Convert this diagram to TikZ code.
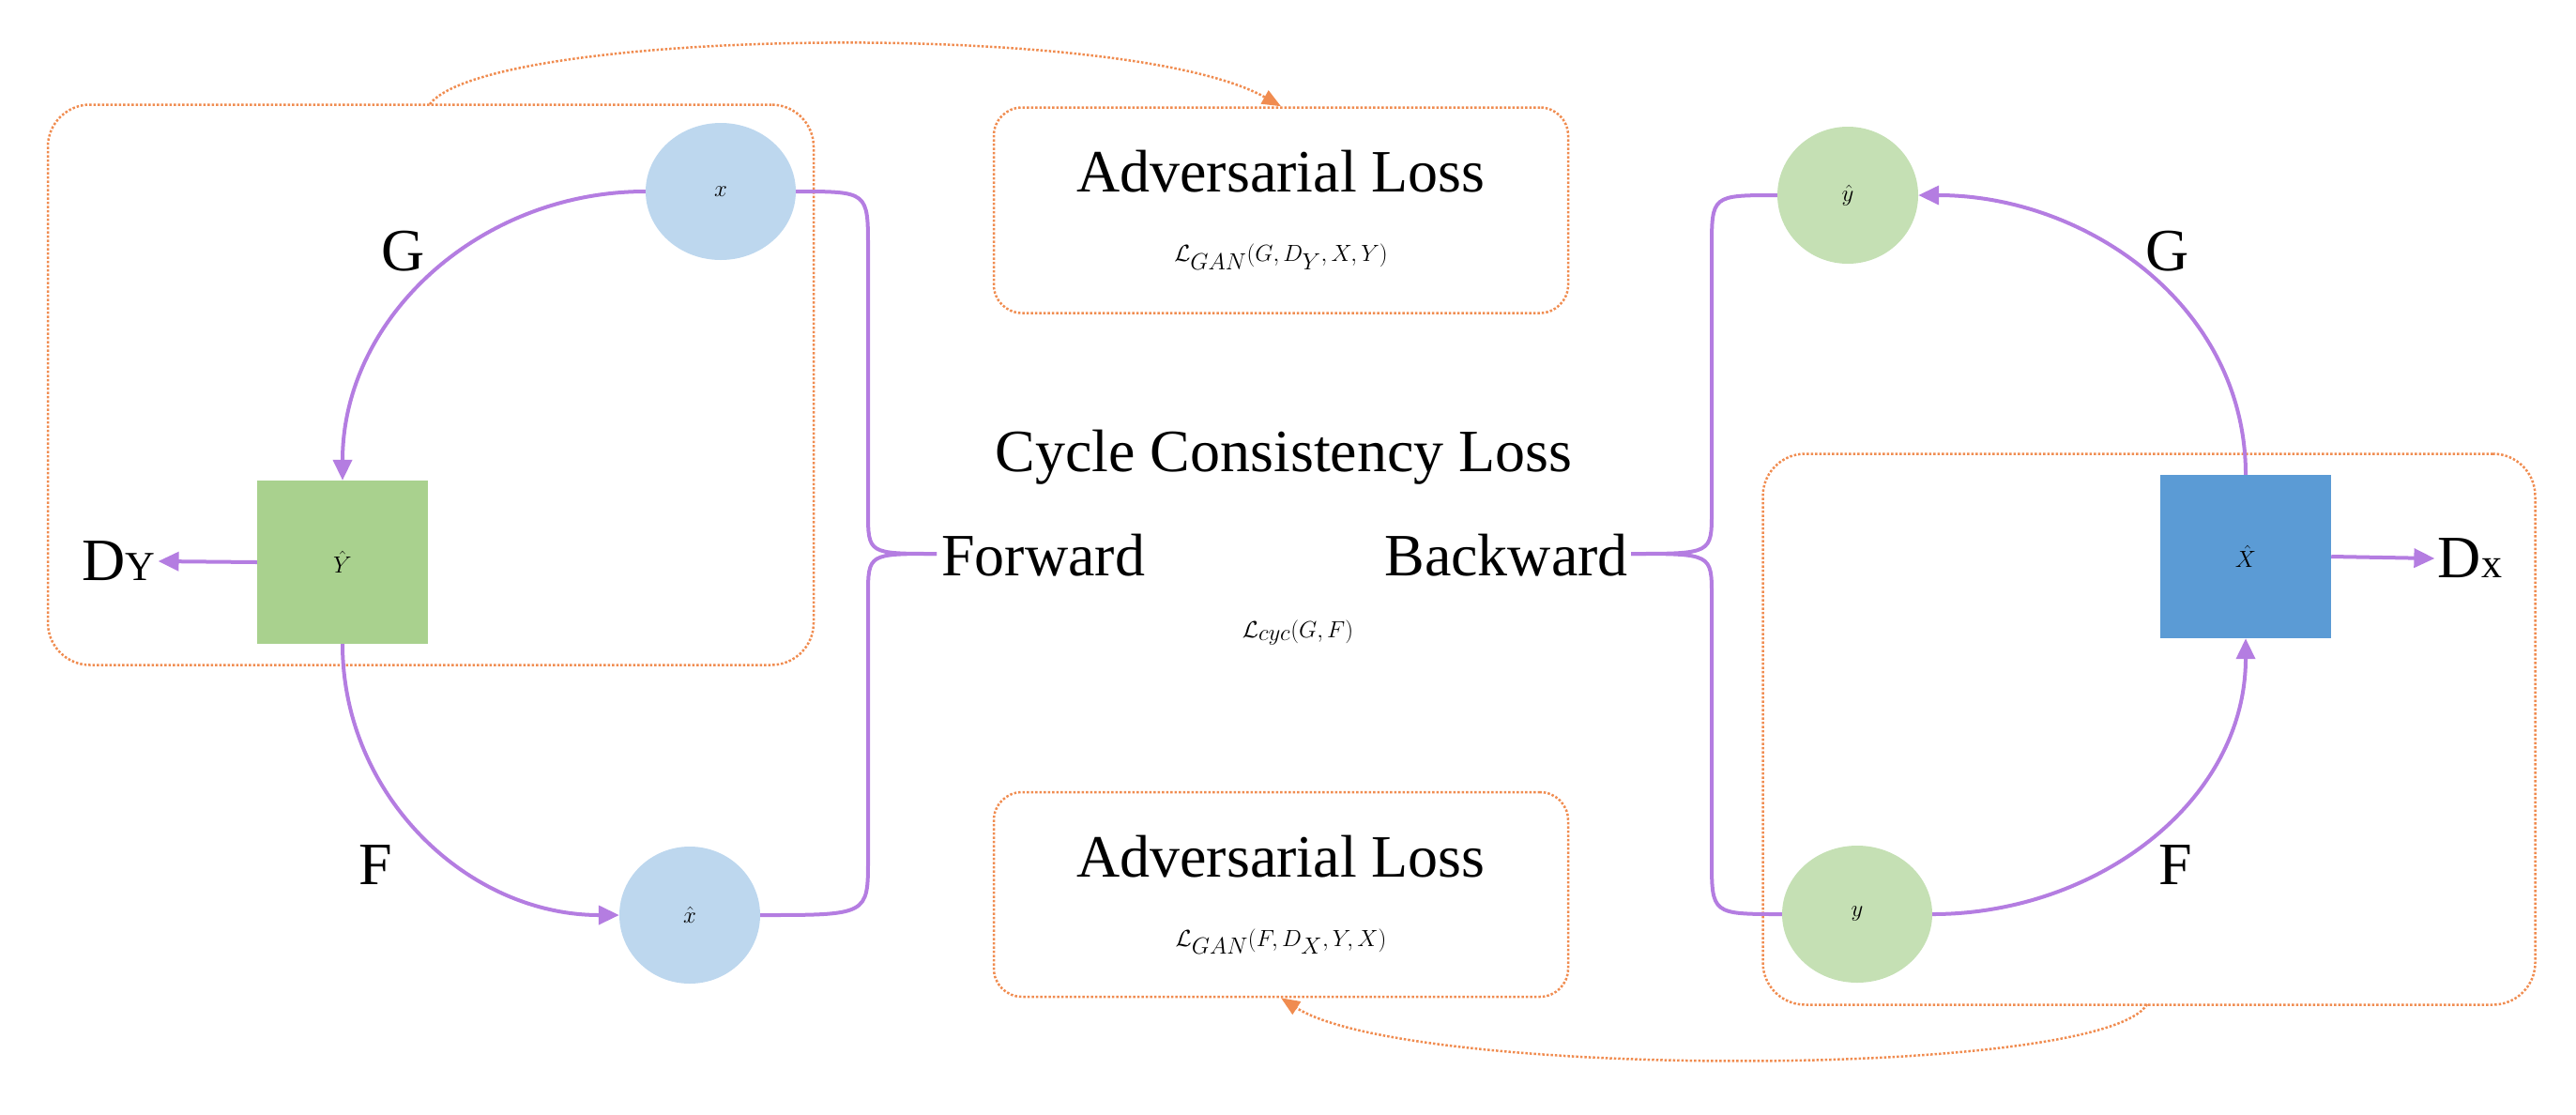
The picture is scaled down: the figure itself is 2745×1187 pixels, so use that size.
\documentclass[tikz,border=0pt]{standalone}
\usepackage{fontspec}
\setmainfont{Liberation Serif}
\usetikzlibrary{arrows.meta,shapes.geometric}
\definecolor{pur}{RGB}{180,125,225}
\definecolor{org}{RGB}{240,140,80}
\definecolor{lblue}{RGB}{189,215,238}
\definecolor{lgreen}{RGB}{197,224,180}
\definecolor{mgreen}{RGB}{169,209,142}
\definecolor{mblue}{RGB}{91,155,213}
\begin{document}
\begin{tikzpicture}[x=1pt,y=-1pt,
  every node/.style={font=\fontsize{64}{74}\selectfont},
  ell/.style={ellipse,minimum width=150pt,minimum height=146pt,inner sep=0pt},
  sq/.style={rectangle,minimum width=182pt,minimum height=174pt},
  con/.style={draw=pur,line width=4pt},
  arr/.style={con,-{Triangle[length=22pt,width=20pt]}},
  dbox/.style={draw=org,line width=2.5pt,dotted,rounded corners=45pt},
  dar/.style={draw=org,line width=2.5pt,dotted,-{Triangle[length=20pt,width=16pt]}}]
\useasboundingbox (0,0) rectangle (2745,1187);
% boxes
\node[dbox,minimum width=816pt,minimum height=597pt] (lbox) at (459,410) {};
\node[dbox,minimum width=823pt,minimum height=587pt] (rbox) at (2290,777) {};
\node[dbox,rounded corners=30pt,minimum width=612pt,minimum height=219pt,align=center] (adv1) at (1365,224) {Adversarial Loss\\$\mathcal{L}_{GAN}(G,D_Y,X,Y)$};
\node[dbox,rounded corners=30pt,minimum width=612pt,minimum height=218pt,align=center] (adv2) at (1365,953) {Adversarial Loss\\$\mathcal{L}_{GAN}(F,D_X,Y,X)$};
% nodes
\node[ell,fill=lblue,minimum width=160pt] (x) at (768,204) {$x$};
\node[ell,fill=lblue] (xh) at (735,975) {$\hat{x}$};
\node[ell,fill=lgreen] (yh) at (1969,208) {$\hat{y}$};
\node[ell,fill=lgreen,minimum width=160pt] (y) at (1979,974) {$y$};
\node[sq,fill=mgreen] (Yh) at (365,599) {$\hat{Y}$};
\node[sq,fill=mblue] (Xh) at (2393,593) {$\hat{X}$};
\node (Dy) at (126,598) {D\fontsize{44}{50}\selectfont Y};
\node (Dx) at (2632,595) {D\fontsize{44}{50}\selectfont x};
\node (G1) at (430,268) {G};
\node (F1) at (400,922) {F};
\node (G2) at (2310,268) {G};
\node (F2) at (2318,922) {F};
\node (cyc) at (1368,487) {Cycle Consistency Loss};
\node[anchor=west,inner sep=0pt] (fw) at (1003,592) {Forward};
\node[anchor=east,inner sep=0pt] (bw) at (1735,592) {Backward};
\node (lc) at (1383,674) {$\mathcal{L}_{cyc}(G,F)$};
% arrows
\draw[arr] (x.west) to[out=180,in=90] (Yh.north);
\draw[arr] (Yh.south) to[out=-90,in=180] (xh.west);
\draw[arr] (Yh.west) -- (Dy.east);
\draw[arr] (y.east) to[out=0,in=-90] (Xh.south);
\draw[arr] (Xh.north) to[out=90,in=0] (yh.east);
\draw[arr] (Xh.east) -- (Dx.west);
% braces
\coordinate (lt) at (998,590);
\coordinate (rt) at (1738,590);
\draw[con,line join=round] (x.east) .. controls (925,204) .. (925,265) -- (925,545) .. controls (925,590) .. (lt);
\draw[con,line join=round] (xh.east) .. controls (925,975) .. (925,915) -- (925,635) .. controls (925,590) .. (lt);
\draw[con,line join=round] (yh.west) .. controls (1824,208) .. (1824,265) -- (1824,545) .. controls (1824,590) .. (rt);
\draw[con,line join=round] (y.west) .. controls (1824,974) .. (1824,915) -- (1824,635) .. controls (1824,590) .. (rt);
% dotted arcs
\coordinate (ls) at (458,111);
\coordinate (rs) at (2288,1070);
\draw[dar] (ls) .. controls (520,30) and (1200,20) .. (adv1.north);
\draw[dar] (rs) .. controls (2240,1150) and (1500,1150) .. (adv2.south);
\end{tikzpicture}
\end{document}
